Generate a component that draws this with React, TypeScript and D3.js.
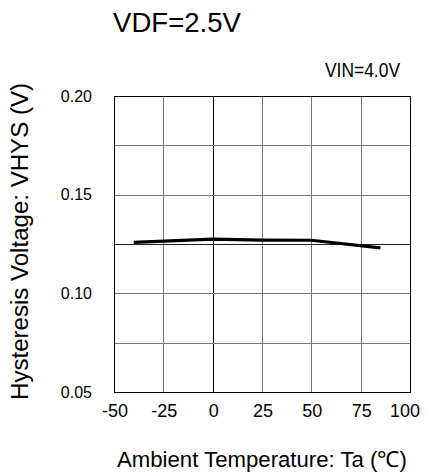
import React from "react";
import * as d3 from "d3";

const temps = [-40, 0, 25, 50, 85];
const vhys = [0.1258, 0.1275, 0.127, 0.1269, 0.123];
const xTicks = [-50, -25, 0, 25, 50, 75, 100];
const yTicks = [0.05, 0.1, 0.15, 0.2];
const yGrid = [0.05, 0.075, 0.1, 0.125, 0.15, 0.175, 0.2];

const W = 427;
const H = 476;
const L = 114, R = 410, T = 96, B = 392;
const FONT = "'Liberation Sans', Arial, sans-serif";

export default function App() {
  const x = d3.scaleLinear().domain([-50, 100]).range([L, R]);
  const y = d3.scaleLinear().domain([0.05, 0.2]).range([B, T]);
  const line = d3
    .line<number>()
    .x((_, i) => x(temps[i]))
    .y((d) => y(d));
  const cx = (v: number) => Math.round(x(v)) + 0.5;
  const cy = (v: number) => Math.round(y(v)) + 0.5;
  return (
    <svg
      width={W}
      height={H}
      style={{ position: "absolute", left: 0, top: 0, background: "#fff" }}
      fontFamily={FONT}
    >
      <rect x={0} y={0} width={W} height={H} fill="#fff" />
      {xTicks.map((t) => (
        <line key={"vx" + t} x1={cx(t)} x2={cx(t)} y1={T} y2={B} stroke={t === 0 ? "#000" : "#777"} strokeWidth={1} />
      ))}
      {yGrid.map((t) => (
        <line key={"hy" + t} x1={L} x2={R} y1={cy(t)} y2={cy(t)} stroke={t === 0.125 ? "#222" : "#777"} strokeWidth={1} />
      ))}
      <rect x={cx(-50)} y={cy(0.2)} width={cx(100) - cx(-50)} height={cy(0.05) - cy(0.2)} fill="none" stroke="#000" strokeWidth={1} />
      <path d={line(vhys) || ""} fill="none" stroke="#000" strokeWidth={3.2} />
      {yTicks.map((t) => (
        <text key={"yt" + t} x={92} y={y(t) + 5.5} textAnchor="end" fontSize={16} fill="#000">
          {t.toFixed(2)}
        </text>
      ))}
      {xTicks.map((t) => (
        <text key={"xt" + t} x={x(t) + (t === 100 ? -5 : 1)} y={416.5} textAnchor="middle" fontSize={18} fill="#000">
          {t}
        </text>
      ))}
      <text x={117} y={467} fontSize={22} fill="#000" textLength={290} lengthAdjust="spacingAndGlyphs">
        Ambient Temperature: Ta (℃)
      </text>
      <text
        transform={`translate(28, 400) rotate(-90)`}
        fontSize={23}
        fill="#000"
        textLength={317}
        lengthAdjust="spacingAndGlyphs"
      >
        Hysteresis Voltage: VHYS (V)
      </text>
      <text x={113} y={32} fontSize={27.5} fill="#000" textLength={128} lengthAdjust="spacingAndGlyphs">
        VDF=2.5V
      </text>
      <text x={325} y={77} fontSize={19.5} fill="#000" textLength={75} lengthAdjust="spacingAndGlyphs">
        VIN=4.0V
      </text>
    </svg>
  );
}
